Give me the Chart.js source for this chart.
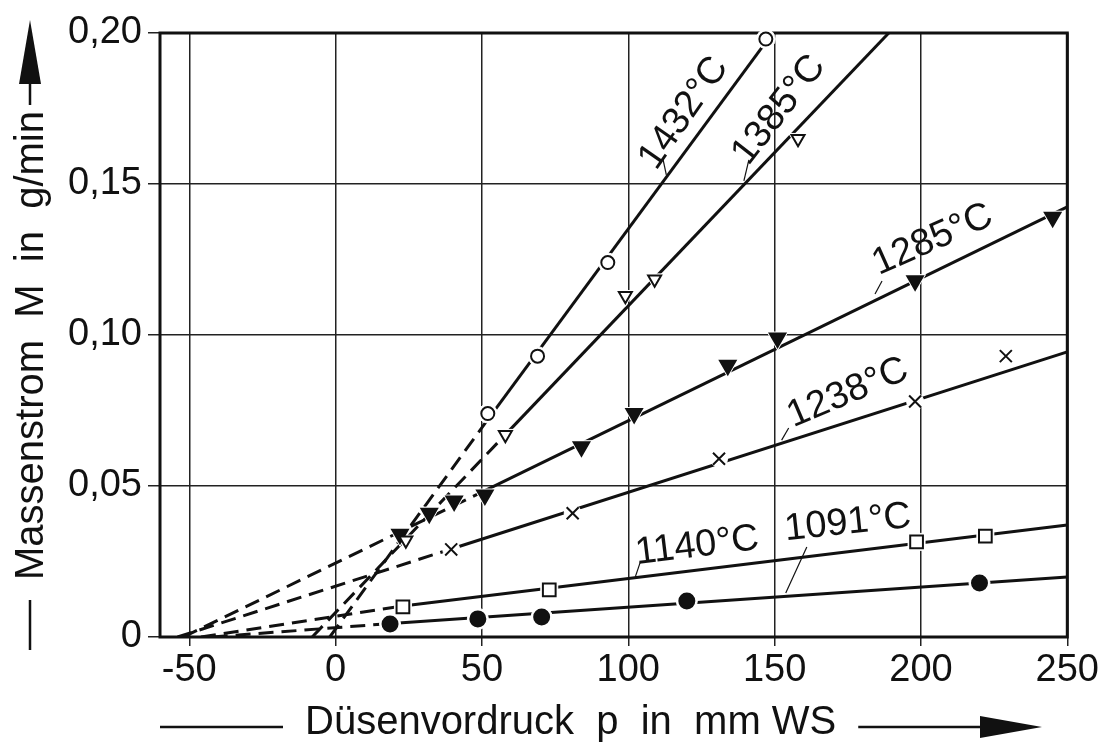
<!DOCTYPE html>
<html>
<head>
<meta charset="utf-8">
<script src="https://cdn.jsdelivr.net/npm/chart.js@4.4.1/dist/chart.umd.min.js"></script>
<style>
html, body { margin: 0; padding: 0; background: #fff; }
</style>
</head>
<body>
<canvas id="chart" width="1101" height="745"></canvas>
<script>
// axis ticks
const xTicks = [-50, 0, 50, 100, 150, 200, 250];
const yTicks = [0, 0.05, 0.10, 0.15, 0.20];
const yTickLabels = ['0', '0,05', '0,10', '0,15', '0,20'];

// curve names
const curveNames = ['1432°C', '1385°C', '1285°C', '1238°C', '1140°C', '1091°C'];

// measured points [p in mm WS, M in g/min]
const p1432 = [[52, 0.074], [69, 0.093], [93, 0.124], [147, 0.198]];
const p1385 = [[24, 0.032], [58, 0.067], [99, 0.113], [109, 0.1185], [158, 0.165]];
const p1285 = [[22, 0.034], [32, 0.041], [40.5, 0.045], [51, 0.047], [84, 0.063], [102, 0.074],
               [134, 0.090], [151, 0.099], [198, 0.118], [245, 0.139]];
const p1238 = [[39.5, 0.029], [81, 0.041], [131, 0.059], [198, 0.078], [229, 0.093]];
const p1140 = [[23, 0.010], [73, 0.0156], [198.5, 0.0315], [222, 0.0334]];
const p1091 = [[18.6, 0.0043], [48.6, 0.006], [70.4, 0.0066], [120, 0.0119], [220, 0.0179]];

// fitted lines: first point = intercept (dashed part), then solid part
const l1432 = [[-2, 0], [52, 0.072], [147, 0.197]];
const l1385 = [[-8, 0], [58, 0.067], [189, 0.2]];
const l1285 = [[-52, 0], [51, 0.0485], [250, 0.1424]];
const l1238 = [[-54, 0], [40, 0.0293], [250, 0.0944]];
const l1140 = [[-46, 0], [23, 0.0103], [250, 0.0371]];
const l1091 = [[-42, 0], [19, 0.0045], [250, 0.0199]];

const points = [p1432, p1385, p1285, p1238, p1140, p1091];
const lines = [l1432, l1385, l1285, l1238, l1140, l1091];

// marker look for each curve
const markers = [
    { style: 'circle', r: 6.5, fill: '#fff', rot: 0 },
    { style: 'triangle', r: 7.5, fill: '#fff', rot: 180 },
    { style: 'triangle', r: 9, fill: '#111', rot: 180 },
    { style: 'crossRot', r: 8.5, fill: '#111', rot: 0 },
    { style: 'rect', r: 9, fill: '#fff', rot: 0 },
    { style: 'circle', r: 7.5, fill: '#111', rot: 0 }
];

// where the curve names sit (data coords), their angle and the small leader line
const labelSpots = [
    { x: 119, y: 0.1735, angle: -55, lead: [[111.8, 0.1585], [113, 0.153]] },
    { x: 151.5, y: 0.1745, angle: -52, lead: [[141.2, 0.158], [139.5, 0.151]] },
    { x: 204, y: 0.1315, angle: -24, lead: [[186.7, 0.1179], [184.3, 0.1136]] },
    { x: 175, y: 0.0808, angle: -23, lead: [[154.8, 0.0692], [152.4, 0.0652]] },
    { x: 123.5, y: 0.0301, angle: -7, lead: [[104.1, 0.0248], [102.4, 0.0199]] },
    { x: 175, y: 0.0377, angle: -6, lead: [[161, 0.0298], [153.8, 0.0146]] }
];

const toXY = arr => arr.map(p => ({ x: p[0], y: p[1] }));
const FONT = '"Liberation Sans", Arial, sans-serif';

const datasets = [];
lines.forEach((l, i) => {
    datasets.push({
        data: toXY(l),
        showLine: true,
        borderColor: '#111',
        borderWidth: 3,
        pointRadius: 0,
        order: 3,
        segment: {
            borderDash: ctx => ctx.p0DataIndex === 0 ? [15, 8] : undefined
        }
    });
});
points.forEach((p, i) => {
    const m = markers[i];
    // white halo so the line breaks around a marker
    datasets.push({
        data: toXY(p),
        showLine: false,
        pointStyle: m.style === 'crossRot' ? 'circle' : m.style,
        pointRotation: m.rot,
        pointRadius: m.style === 'crossRot' ? m.r : m.r + 3,
        pointBackgroundColor: '#fff',
        pointBorderColor: '#fff',
        pointBorderWidth: 1,
        order: 2,
        clip: 12
    });
    datasets.push({
        data: toXY(p),
        showLine: false,
        pointStyle: m.style,
        pointRotation: m.rot,
        pointRadius: m.r,
        pointBackgroundColor: m.fill,
        pointBorderColor: '#111',
        pointBorderWidth: 2,
        order: 1,
        clip: 12
    });
});

// frame, curve names and axis titles
const decor = {
    id: 'decor',
    beforeDatasetsDraw(chart) {
        const { ctx, chartArea: a } = chart;
        ctx.save();
        ctx.strokeStyle = '#111';
        ctx.lineWidth = 3;
        ctx.strokeRect(a.left, a.top, a.right - a.left, a.bottom - a.top);
        ctx.restore();
    },
    afterDraw(chart) {
        const { ctx, scales: { x, y } } = chart;
        ctx.save();
        ctx.fillStyle = '#111';
        ctx.strokeStyle = '#111';

        // curve names
        ctx.font = '38px ' + FONT;
        ctx.textAlign = 'center';
        ctx.textBaseline = 'middle';
        labelSpots.forEach((s, i) => {
            ctx.save();
            ctx.translate(x.getPixelForValue(s.x), y.getPixelForValue(s.y));
            ctx.rotate(s.angle * Math.PI / 180);
            ctx.fillText(curveNames[i], 0, 0);
            ctx.restore();
            ctx.lineWidth = 1.2;
            ctx.beginPath();
            ctx.moveTo(x.getPixelForValue(s.lead[0][0]), y.getPixelForValue(s.lead[0][1]));
            ctx.lineTo(x.getPixelForValue(s.lead[1][0]), y.getPixelForValue(s.lead[1][1]));
            ctx.stroke();
        });

        // x title
        ctx.font = '40px ' + FONT;
        ctx.textAlign = 'left';
        const xt = 'Düsenvordruck  p  in  mm WS';
        const xtY = 723;
        ctx.fillText(xt, 305, xtY);
        const xtEnd = 305 + ctx.measureText(xt).width;
        ctx.lineWidth = 2.5;
        ctx.beginPath();
        ctx.moveTo(160, xtY + 4); ctx.lineTo(283, xtY + 4);
        ctx.moveTo(xtEnd + 22, xtY + 4); ctx.lineTo(985, xtY + 4);
        ctx.stroke();
        ctx.beginPath();
        ctx.moveTo(1042, xtY + 4); ctx.lineTo(980, xtY - 7); ctx.lineTo(980, xtY + 15);
        ctx.closePath(); ctx.fill();

        // y title, written upward from the bottom dash
        const yt = 'Massenstrom  M  in  g/min';
        const ytX = 32;
        const w = ctx.measureText(yt).width;
        const ytStart = 580;
        ctx.save();
        ctx.translate(ytX, ytStart);
        ctx.rotate(-Math.PI / 2);
        ctx.textAlign = 'left';
        ctx.fillText(yt, 0, 0);
        ctx.restore();
        ctx.beginPath();
        ctx.moveTo(ytX - 2, 650); ctx.lineTo(ytX - 2, 600);
        ctx.moveTo(ytX - 2, ytStart - w - 6); ctx.lineTo(ytX - 2, 80);
        ctx.stroke();
        ctx.beginPath();
        ctx.moveTo(ytX - 2, 20); ctx.lineTo(ytX - 13, 84); ctx.lineTo(ytX + 9, 84);
        ctx.closePath(); ctx.fill();
        ctx.restore();
    }
};

new Chart(document.getElementById('chart'), {
    type: 'scatter',
    data: { datasets: datasets },
    options: {
        responsive: false,
        animation: false,
        layout: { padding: { left: 0, right: 32, top: 33, bottom: 0 } },
        plugins: { legend: { display: false }, tooltip: { enabled: false } },
        scales: {
            x: {
                type: 'linear',
                min: -60,
                max: 250,
                afterBuildTicks: s => { s.ticks = xTicks.map(v => ({ value: v })); },
                afterFit: s => { s.height = 108; },
                ticks: {
                    color: '#111',
                    font: { family: FONT, size: 38 },
                    padding: 2,
                    maxRotation: 0,
                    callback: v => String(v)
                },
                grid: { color: '#222', lineWidth: 1.5, tickLength: 9 },
                border: { display: false }
            },
            y: {
                type: 'linear',
                min: 0,
                max: 0.2,
                afterBuildTicks: s => { s.ticks = yTicks.map(v => ({ value: v })); },
                afterFit: s => { s.width = 160; },
                ticks: {
                    color: '#111',
                    font: { family: FONT, size: 38 },
                    padding: 6,
                    callback: (v, i) => yTickLabels[i]
                },
                grid: { color: '#222', lineWidth: 1.5, tickLength: 12 },
                border: { display: false }
            }
        }
    },
    plugins: [decor]
});
</script>
</body>
</html>
